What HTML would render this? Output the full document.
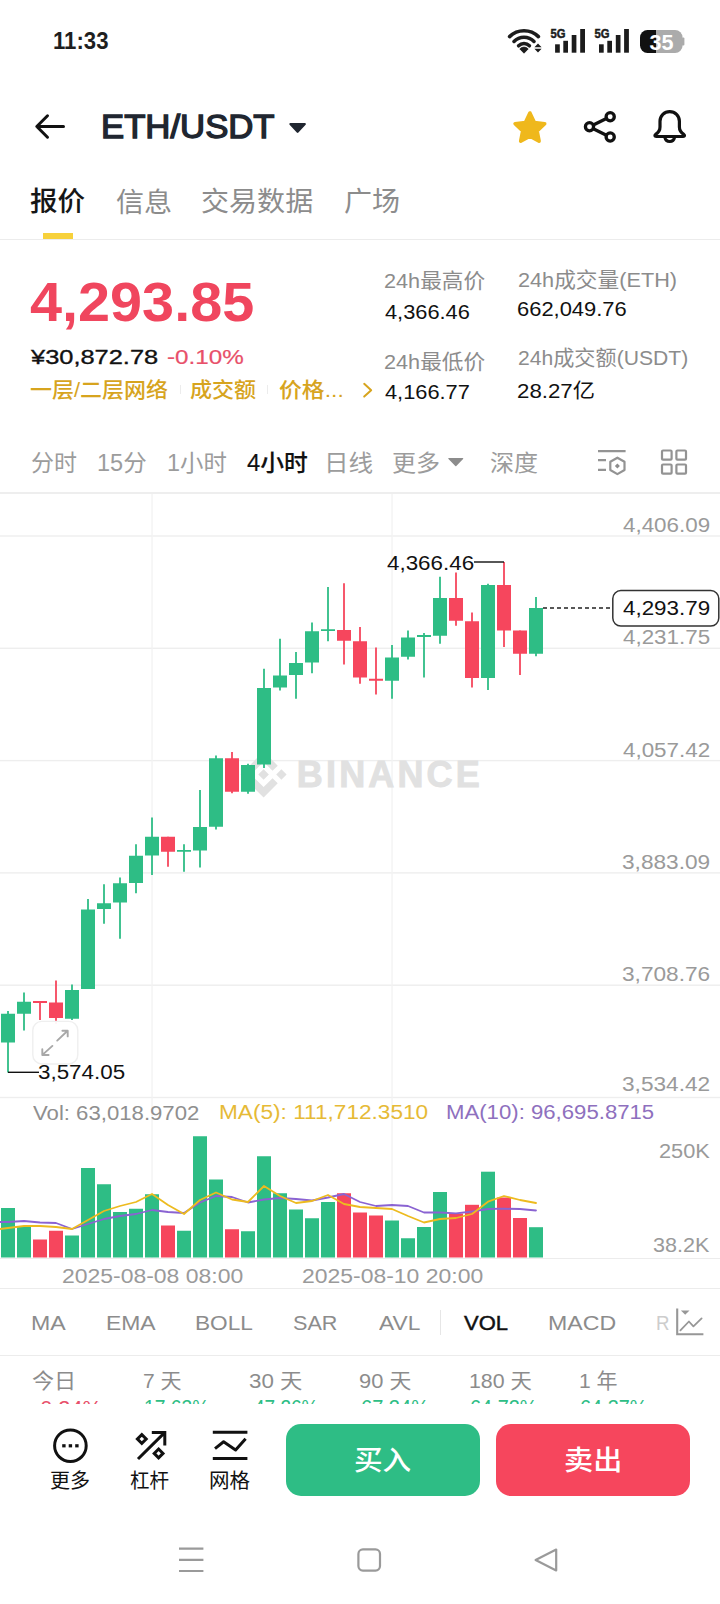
<!DOCTYPE html>
<html lang="zh-CN">
<head>
<meta charset="utf-8">
<meta name="viewport" content="width=720">
<title>ETH/USDT</title>
<style>
html,body{margin:0;padding:0;background:#fff;}
body{width:720px;height:1604px;position:relative;overflow:hidden;font-family:"Liberation Sans","Noto Sans CJK SC",sans-serif;}
.t{position:absolute;white-space:nowrap;transform-origin:0 50%;z-index:3;}
.abs{position:absolute;}
.chart{position:absolute;left:0;top:490px;}
.hr{position:absolute;left:0;width:720px;height:1px;background:#ececec;}
</style>
</head>
<body>
<svg class="chart" width="720" height="810" viewBox="0 490 720 810" shape-rendering="auto">
<rect x="0" y="535.30" width="720" height="1.4" fill="#eeeeee"/>
<rect x="0" y="647.60" width="720" height="1.4" fill="#eeeeee"/>
<rect x="0" y="759.90" width="720" height="1.4" fill="#eeeeee"/>
<rect x="0" y="872.20" width="720" height="1.4" fill="#eeeeee"/>
<rect x="0" y="984.50" width="720" height="1.4" fill="#eeeeee"/>
<rect x="0" y="1096.80" width="720" height="1.4" fill="#eeeeee"/>
<rect x="151.4" y="493" width="1.3" height="765" fill="#f2f2f2"/>
<rect x="391.4" y="493" width="1.3" height="765" fill="#f2f2f2"/>
<g transform="translate(240.6 751.5) scale(0.3633)" fill="#e1e1e1">
<path d="M38.73 53.2l24.59-24.58 24.6 24.6 14.3-14.31L63.32 0l-38.9 38.9z"/>
<path d="M0 63.31l14.3-14.31 14.31 14.31-14.31 14.3z"/>
<path d="M38.73 73.41l24.59 24.59 24.6-24.6 14.31 14.29-38.9 38.91-38.91-38.88z"/>
<path d="M98 63.31l14.3-14.31 14.31 14.3-14.31 14.32z"/>
<path d="M77.83 63.3L63.32 48.78 52.59 59.51l-1.24 1.23-2.54 2.54 14.51 14.5 14.51-14.47z"/>
</g>
<text x="296.8" y="787.4" font-family="Liberation Sans, sans-serif" font-weight="700" font-size="36" fill="#e1e1e1" textLength="183" lengthAdjust="spacing" stroke="#e1e1e1" stroke-width="0.9">BINANCE</text>

<rect x="7.1" y="1011" width="1.8" height="61.50" fill="#2EBD85"/>
<rect x="1" y="1013.75" width="14" height="28.75" fill="#2EBD85"/>
<rect x="23.1" y="992.5" width="1.8" height="38.00" fill="#2EBD85"/>
<rect x="17" y="1001.75" width="14" height="12.00" fill="#2EBD85"/>
<rect x="39.1" y="1001" width="1.8" height="19.00" fill="#F6465D"/>
<rect x="33" y="1001" width="14" height="2.00" fill="#F6465D"/>
<rect x="55.1" y="980.5" width="1.8" height="43.50" fill="#F6465D"/>
<rect x="49" y="1002.5" width="14" height="15.50" fill="#F6465D"/>
<rect x="71.1" y="984.5" width="1.8" height="35.50" fill="#2EBD85"/>
<rect x="65" y="990" width="14" height="28.75" fill="#2EBD85"/>
<rect x="87.1" y="899" width="1.8" height="90.00" fill="#2EBD85"/>
<rect x="81" y="909.5" width="14" height="79.50" fill="#2EBD85"/>
<rect x="103.1" y="884.25" width="1.8" height="39.50" fill="#2EBD85"/>
<rect x="97" y="903.25" width="14" height="5.75" fill="#2EBD85"/>
<rect x="119.1" y="877.5" width="1.8" height="61.25" fill="#2EBD85"/>
<rect x="113" y="883.25" width="14" height="19.25" fill="#2EBD85"/>
<rect x="135.1" y="844.25" width="1.8" height="49.00" fill="#2EBD85"/>
<rect x="129" y="855.75" width="14" height="27.25" fill="#2EBD85"/>
<rect x="151.1" y="817.5" width="1.8" height="57.50" fill="#2EBD85"/>
<rect x="145" y="836.75" width="14" height="18.75" fill="#2EBD85"/>
<rect x="167.1" y="836.75" width="1.8" height="30.00" fill="#F6465D"/>
<rect x="161" y="836.75" width="14" height="15.00" fill="#F6465D"/>
<rect x="183.1" y="844.25" width="1.8" height="27.50" fill="#2EBD85"/>
<rect x="177" y="850" width="14" height="1.75" fill="#2EBD85"/>
<rect x="199.1" y="790" width="1.8" height="77.50" fill="#2EBD85"/>
<rect x="193" y="827" width="14" height="23.50" fill="#2EBD85"/>
<rect x="215.1" y="755.5" width="1.8" height="74.00" fill="#2EBD85"/>
<rect x="209" y="758.25" width="14" height="68.50" fill="#2EBD85"/>
<rect x="231.1" y="752" width="1.8" height="41.25" fill="#F6465D"/>
<rect x="225" y="758.25" width="14" height="33.50" fill="#F6465D"/>
<rect x="247.1" y="763.75" width="1.8" height="30.00" fill="#2EBD85"/>
<rect x="241" y="765" width="14" height="26.75" fill="#2EBD85"/>
<rect x="263.1" y="668.75" width="1.8" height="99.25" fill="#2EBD85"/>
<rect x="257" y="688" width="14" height="76.50" fill="#2EBD85"/>
<rect x="279.1" y="638.75" width="1.8" height="51.75" fill="#2EBD85"/>
<rect x="273" y="675.5" width="14" height="12.00" fill="#2EBD85"/>
<rect x="295.1" y="652" width="1.8" height="46.75" fill="#2EBD85"/>
<rect x="289" y="663" width="14" height="12.00" fill="#2EBD85"/>
<rect x="311.1" y="622.5" width="1.8" height="50.75" fill="#2EBD85"/>
<rect x="305" y="631.25" width="14" height="31.25" fill="#2EBD85"/>
<rect x="327.1" y="587" width="1.8" height="54.25" fill="#2EBD85"/>
<rect x="321" y="629.25" width="14" height="1.75" fill="#2EBD85"/>
<rect x="343.1" y="583.25" width="1.8" height="81.25" fill="#F6465D"/>
<rect x="337" y="630" width="14" height="10.75" fill="#F6465D"/>
<rect x="359.1" y="627" width="1.8" height="56.75" fill="#F6465D"/>
<rect x="353" y="641.25" width="14" height="36.25" fill="#F6465D"/>
<rect x="375.1" y="647.5" width="1.8" height="47.00" fill="#F6465D"/>
<rect x="369" y="678.75" width="14" height="2.00" fill="#F6465D"/>
<rect x="391.1" y="645" width="1.8" height="53.75" fill="#2EBD85"/>
<rect x="385" y="657.5" width="14" height="23.25" fill="#2EBD85"/>
<rect x="407.1" y="630.5" width="1.8" height="29.00" fill="#2EBD85"/>
<rect x="401" y="637.5" width="14" height="19.25" fill="#2EBD85"/>
<rect x="423.1" y="633" width="1.8" height="44.50" fill="#2EBD85"/>
<rect x="417" y="635" width="14" height="2.00" fill="#2EBD85"/>
<rect x="439.1" y="576.75" width="1.8" height="67.00" fill="#2EBD85"/>
<rect x="433" y="598" width="14" height="37.75" fill="#2EBD85"/>
<rect x="455.1" y="572.5" width="1.8" height="53.25" fill="#F6465D"/>
<rect x="449" y="598" width="14" height="22.75" fill="#F6465D"/>
<rect x="471.1" y="612.5" width="1.8" height="75.00" fill="#F6465D"/>
<rect x="465" y="621.25" width="14" height="56.75" fill="#F6465D"/>
<rect x="487.1" y="583.75" width="1.8" height="106.25" fill="#2EBD85"/>
<rect x="481" y="585" width="14" height="93.00" fill="#2EBD85"/>
<rect x="503.1" y="562" width="1.8" height="85.00" fill="#F6465D"/>
<rect x="497" y="585" width="14" height="45.50" fill="#F6465D"/>
<rect x="519.1" y="630.5" width="1.8" height="44.50" fill="#F6465D"/>
<rect x="513" y="630.5" width="14" height="23.25" fill="#F6465D"/>
<rect x="535.1" y="597" width="1.8" height="59.25" fill="#2EBD85"/>
<rect x="529" y="608" width="14" height="45.75" fill="#2EBD85"/>
<rect x="1" y="1208" width="14" height="49.50" fill="#2EBD85"/>
<rect x="17" y="1226.25" width="14" height="31.25" fill="#2EBD85"/>
<rect x="33" y="1239.5" width="14" height="18.00" fill="#F6465D"/>
<rect x="49" y="1230.75" width="14" height="26.75" fill="#F6465D"/>
<rect x="65" y="1235.5" width="14" height="22.00" fill="#2EBD85"/>
<rect x="81" y="1168" width="14" height="89.50" fill="#2EBD85"/>
<rect x="97" y="1184.25" width="14" height="73.25" fill="#2EBD85"/>
<rect x="113" y="1212" width="14" height="45.50" fill="#2EBD85"/>
<rect x="129" y="1208.75" width="14" height="48.75" fill="#2EBD85"/>
<rect x="145" y="1194.25" width="14" height="63.25" fill="#2EBD85"/>
<rect x="161" y="1225.5" width="14" height="32.00" fill="#F6465D"/>
<rect x="177" y="1230.75" width="14" height="26.75" fill="#2EBD85"/>
<rect x="193" y="1136.25" width="14" height="121.25" fill="#2EBD85"/>
<rect x="209" y="1179.5" width="14" height="78.00" fill="#2EBD85"/>
<rect x="225" y="1229.25" width="14" height="28.25" fill="#F6465D"/>
<rect x="241" y="1231.25" width="14" height="26.25" fill="#2EBD85"/>
<rect x="257" y="1156.25" width="14" height="101.25" fill="#2EBD85"/>
<rect x="273" y="1193.25" width="14" height="64.25" fill="#2EBD85"/>
<rect x="289" y="1209.5" width="14" height="48.00" fill="#2EBD85"/>
<rect x="305" y="1218.25" width="14" height="39.25" fill="#2EBD85"/>
<rect x="321" y="1202" width="14" height="55.50" fill="#2EBD85"/>
<rect x="337" y="1193.25" width="14" height="64.25" fill="#F6465D"/>
<rect x="353" y="1212.5" width="14" height="45.00" fill="#F6465D"/>
<rect x="369" y="1215.5" width="14" height="42.00" fill="#F6465D"/>
<rect x="385" y="1220.5" width="14" height="37.00" fill="#2EBD85"/>
<rect x="401" y="1238.25" width="14" height="19.25" fill="#2EBD85"/>
<rect x="417" y="1227" width="14" height="30.50" fill="#2EBD85"/>
<rect x="433" y="1192" width="14" height="65.50" fill="#2EBD85"/>
<rect x="449" y="1213.5" width="14" height="44.00" fill="#F6465D"/>
<rect x="465" y="1204.8" width="14" height="52.70" fill="#F6465D"/>
<rect x="481" y="1171.7" width="14" height="85.80" fill="#2EBD85"/>
<rect x="497" y="1197.5" width="14" height="60.00" fill="#F6465D"/>
<rect x="513" y="1218" width="14" height="39.50" fill="#F6465D"/>
<rect x="529" y="1227.2" width="14" height="30.30" fill="#2EBD85"/>
<polyline points="0,1222 8,1222 24,1221 40,1222.5 56,1223 72,1229 88,1224 104,1219 120,1216 136,1214 152,1210 168,1212 184,1213 200,1202.5 216,1196 232,1197 248,1202.5 264,1199.5 280,1198 296,1199 312,1200.5 328,1197.5 344,1194 360,1202 376,1206 392,1205 408,1206 424,1212.5 440,1212.5 456,1213.3 472,1211.5 488,1209 504,1208.7 520,1209 536,1210.5" fill="none" stroke="#8A63D2" stroke-width="1.8" stroke-linejoin="round" stroke-linecap="round"/>
<polyline points="0,1229 8,1228 24,1226 40,1226 56,1227 72,1229 88,1220 104,1211 120,1206 136,1202 152,1194 168,1205 184,1214 200,1200 216,1192.5 232,1199.5 248,1202 264,1186 280,1196 296,1203 312,1201 328,1195 344,1204 360,1207 376,1208 392,1209 408,1216 424,1222.5 440,1219 456,1218 472,1214 488,1201.7 504,1196 520,1200 536,1203" fill="none" stroke="#EDBB1F" stroke-width="1.8" stroke-linejoin="round" stroke-linecap="round"/>
<rect x="474" y="561.3" width="30" height="1.4" fill="#111"/>
<rect x="8" y="1071.6" width="31" height="1.4" fill="#111"/>
<line x1="543" y1="608" x2="612" y2="608" stroke="#222" stroke-width="1.4" stroke-dasharray="4 3"/>
<rect x="612.8" y="590.6" width="106" height="35.4" rx="8" fill="#fff" stroke="#333" stroke-width="1.5"/>

</svg>
<!-- separators -->
<div class="hr" style="top:239px"></div>
<div class="hr" style="top:492.2px;height:1.4px;background:#eee"></div>
<div class="hr" style="top:1287.5px"></div>
<div class="hr" style="top:1257.5px;height:1.4px"></div>
<div class="hr" style="top:1355px"></div>
<div class="abs" style="left:440px;top:1310px;width:1px;height:25px;background:#e6e6e6"></div>
<!-- tab underline -->
<div class="abs" style="left:42.8px;top:233.2px;width:30px;height:6px;background:#F7D13B"></div>

<div class="abs" style="left:179.8px;top:385px;width:1.4px;height:9px;background:#ececec"></div>
<div class="abs" style="left:267px;top:385px;width:1.4px;height:9px;background:#ececec"></div>
<svg class="abs" style="left:355px;top:378px" width="24" height="24" viewBox="355 378 24 24"><path d="M364.2 383.8 L371.2 390.2 L364.2 396.6" fill="none" stroke="#D7A41E" stroke-width="2" stroke-linecap="round" stroke-linejoin="round"/></svg>
<!-- status bar icons -->
<svg class="abs" style="left:500px;top:20px" width="200" height="40" viewBox="500 20 200 40">
  <g fill="none" stroke="#1c1c1c" stroke-width="3.6" stroke-linecap="round">
    <path d="M509.6 36.6 A20.5 20.5 0 0 1 538.4 36.6"/>
    <path d="M514 41.4 A14 14 0 0 1 534 41.4"/>
    <path d="M518.6 45.8 A7.6 7.6 0 0 1 529.4 45.8"/>
  </g>
  <path d="M524 53.2 L519.8 48.9 A5.8 5.8 0 0 1 528.2 48.9 Z" fill="#1c1c1c" stroke="#1c1c1c" stroke-width="0.8" stroke-linejoin="round"/>
  <path d="M538 43.4 L541.6 47.2 L534.4 47.2 Z M538 52.4 L541.6 48.8 L534.4 48.8 Z" fill="#1c1c1c"/>
  <g fill="#1c1c1c">
    <rect x="555.1" y="44.3" width="4.7" height="8.4"/>
    <rect x="563.3" y="40.8" width="4.7" height="11.9"/>
    <rect x="571.7" y="35" width="4.7" height="17.7"/>
    <rect x="580.2" y="29" width="4.8" height="23.7"/>
    <rect x="599" y="44.3" width="4.7" height="8.4"/>
    <rect x="607.3" y="40.8" width="4.7" height="11.9"/>
    <rect x="615.8" y="35" width="4.7" height="17.7"/>
    <rect x="624.1" y="29" width="4.8" height="23.7"/>
  </g>
  <text x="550.4" y="38.2" font-family="Liberation Sans, sans-serif" font-weight="700" font-size="13.2" fill="#1c1c1c" stroke="#1c1c1c" stroke-width="0.5" textLength="15" lengthAdjust="spacingAndGlyphs">5G</text>
  <text x="594.6" y="38.2" font-family="Liberation Sans, sans-serif" font-weight="700" font-size="13.2" fill="#1c1c1c" stroke="#1c1c1c" stroke-width="0.5" textLength="15" lengthAdjust="spacingAndGlyphs">5G</text>
  <defs><clipPath id="batc"><rect x="640" y="30" width="42.6" height="23" rx="7.5"/></clipPath></defs>
  <g clip-path="url(#batc)">
    <rect x="640" y="30" width="16" height="23" fill="#111"/>
    <rect x="656" y="30" width="27" height="23" fill="#ababab"/>
  </g>
  <rect x="682" y="37.5" width="2.4" height="8" rx="1" fill="#ababab"/>
  <text x="649.4" y="49.8" font-family="Liberation Sans, sans-serif" font-weight="700" font-size="22" fill="#fff" textLength="24" lengthAdjust="spacingAndGlyphs">35</text>
</svg>

<!-- header icons -->
<svg class="abs" style="left:30px;top:105px" width="290" height="45" viewBox="30 105 290 45">
  <path d="M63.5 126.5 H37 M47.5 115.8 L36.8 126.5 L47.5 137.2" fill="none" stroke="#111" stroke-width="3" stroke-linecap="round" stroke-linejoin="round"/>
  <path d="M290.4 124 L304.8 124 L297.6 131.8 Z" fill="#202630" stroke="#202630" stroke-width="2.2" stroke-linejoin="round"/>
</svg>
<svg class="abs" style="left:500px;top:100px" width="200" height="55" viewBox="500 100 200 55">
  <path d="M529.9 113.0 L534.4 122.5 L544.7 123.8 L537.1 130.9 L539.1 141.2 L529.9 136.2 L520.7 141.2 L522.7 130.9 L515.1 123.8 L525.4 122.5 Z" fill="#EFB81C" stroke="#EFB81C" stroke-width="3.6" stroke-linejoin="round"/>
  <g fill="none" stroke="#111" stroke-width="3.3">
    <circle cx="589.5" cy="126.8" r="4.1"/>
    <circle cx="610.2" cy="116.8" r="4.1"/>
    <circle cx="610.2" cy="137" r="4.1"/>
    <path d="M593.3 125 L606.4 118.6 M593.3 128.7 L606.4 135.2"/>
  </g>
  <path d="M660 121.3 A9.7 9.7 0 0 1 679.4 121.3 L679.4 127 C679.4 131 681.6 133 683.8 134.4 C685 135.4 684.6 136.5 683.2 136.5 L656.2 136.5 C654.8 136.5 654.4 135.4 655.6 134.4 C657.8 133 660 131 660 127 Z" fill="none" stroke="#111" stroke-width="3.2" stroke-linejoin="round"/>
  <path d="M664.8 137.4 A5 5 0 0 0 674.6 137.4" fill="none" stroke="#111" stroke-width="3"/>
</svg>

<!-- interval row icons -->
<svg class="abs" style="left:440px;top:440px" width="260" height="45" viewBox="440 440 260 45">
  <path d="M449 458.6 L462.6 458.6 L455.8 465.6 Z" fill="#8c8c8c" stroke="#8c8c8c" stroke-width="1.4" stroke-linejoin="round"/>
  <g fill="none" stroke="#939393" stroke-width="2.2" stroke-linejoin="round">
    <path d="M598 451.2 H625.6 M598 460.2 H606 M598 469.8 H606"/>
    <path d="M617.4 457.7 L624.5 461.8 L624.5 470 L617.4 474.1 L610.3 470 L610.3 461.8 Z"/>
    <rect x="662" y="450.5" width="9.6" height="9.2" rx="1"/>
    <rect x="676.4" y="450.5" width="9.6" height="9.2" rx="1"/>
    <rect x="662" y="464.5" width="9.6" height="9.2" rx="1"/>
    <rect x="676.4" y="464.5" width="9.6" height="9.2" rx="1"/>
  </g>
  <path d="M617.4 463.4 L619.9 465.9 L617.4 468.4 L614.9 465.9 Z" fill="#8c8c8c"/>
</svg>

<!-- trend icon in indicator row -->
<div class="abs" style="left:640px;top:1300px;width:80px;height:50px;background:linear-gradient(90deg,rgba(255,255,255,0) 0,rgba(255,255,255,.0) 15%,#fff 45%)"></div>
<svg class="abs" style="left:670px;top:1300px" width="45" height="45" viewBox="670 1300 45 45">
  <path d="M677.2 1308.4 V1334.3 H703.4" fill="none" stroke="#979797" stroke-width="2.1"/>
  <path d="M680.4 1330.4 L688.9 1321.5 L693.4 1326.3 L701.6 1318.4" fill="none" stroke="#979797" stroke-width="1.8" stroke-linejoin="round" stroke-linecap="round"/>
  <path d="M680.9 1310.6 L689.5 1310.6 L685.2 1314.8 Z" fill="#979797"/>
</svg>

<!-- bottom bar -->
<div class="abs" style="left:0;top:1403.5px;width:720px;height:201px;background:#fff;z-index:1"></div>
<div class="abs" style="left:286px;top:1424px;width:194px;height:71.5px;border-radius:15px;background:#2EBD85;z-index:2"></div>
<div class="abs" style="left:496px;top:1424px;width:194px;height:71.5px;border-radius:15px;background:#F6465D;z-index:2"></div>
<svg class="abs" style="left:40px;top:1420px;z-index:2" width="230" height="50" viewBox="40 1420 230 50">
  <circle cx="70.4" cy="1445.7" r="15.8" fill="none" stroke="#111" stroke-width="3"/>
  <g fill="#111"><rect x="62.2" y="1444.2" width="3.4" height="3.2"/><rect x="68.7" y="1444.2" width="3.4" height="3.2"/><rect x="75.2" y="1444.2" width="3.4" height="3.2"/></g>
  <g fill="none" stroke="#111" stroke-width="3" stroke-linejoin="miter">
    <path d="M138 1459 L164.6 1432.6 M151.8 1432.4 H164.8 V1445.4"/>
    <path d="M141.8 1434.6 L146.2 1439 L141.8 1443.4 L137.4 1439 Z"/>
    <path d="M158.6 1449 L163 1453.4 L158.6 1457.8 L154.2 1453.4 Z"/>
    <path d="M212.8 1432.2 H247.4 M212.8 1458.4 H247.4"/>
    <path d="M215 1448.6 L223.6 1441.8 L235.6 1450 L245.6 1438.8" stroke-linejoin="round"/>
  </g>
</svg>
<!-- android nav -->
<svg class="abs" style="left:170px;top:1540px;z-index:2" width="400" height="40" viewBox="170 1540 400 40">
  <g fill="none" stroke="#9a9a9a" stroke-width="2.2" stroke-linejoin="round">
    <path d="M179 1548.6 H203.4 M179 1559.8 H203.4 M179 1571 H203.4"/>
    <rect x="358.4" y="1549.4" width="21.6" height="21.2" rx="4.5"/>
    <path d="M556.2 1549.6 V1570.4 L535.6 1560 Z"/>
  </g>
</svg>

<svg class="abs" style="left:28px;top:1016px;z-index:4" width="56" height="54" viewBox="28 1016 56 54">
<rect x="32.8" y="1021.4" width="45" height="42.6" rx="9" fill="#fff" fill-opacity=".95" stroke="#efefef" stroke-width="1.4"/>
<path d="M57.2 1040.6 L67.6 1030.8 M62.4 1030.7 H67.7 V1036.4 M52.4 1045.9 L42.4 1054.9 M42.3 1049.2 V1055 H48.6" fill="none" stroke="#a8a8a8" stroke-width="1.9" stroke-linecap="round" stroke-linejoin="round"/>
</svg>

<div class="t" id="clock" style="left:52.73px;top:25.10px;font-size:23px;line-height:32.2px;color:#1f1f1f;font-weight:700;transform:scaleX(0.9643)">11:33</div>
<div class="t" id="pair" style="left:101.32px;top:105.15px;font-size:32.5px;line-height:45.5px;color:#202630;font-weight:400;-webkit-text-stroke:1.35px #202630;transform:scaleX(1.0680)">ETH/USDT</div>
<div class="t" id="tab1" style="left:30.21px;top:184.10px;font-size:27px;line-height:37.8px;color:#161616;font-weight:500;transform:scaleX(1.0196)">报价</div>
<div class="t" id="tab2" style="left:116.44px;top:185.10px;font-size:27px;line-height:37.8px;color:#8c8c8c;font-weight:400;transform:scaleX(1.0392)">信息</div>
<div class="t" id="tab3" style="left:201.45px;top:184.10px;font-size:27px;line-height:37.8px;color:#8c8c8c;font-weight:400;transform:scaleX(1.0386)">交易数据</div>
<div class="t" id="tab4" style="left:344.44px;top:183.60px;font-size:27px;line-height:37.8px;color:#8c8c8c;font-weight:400;transform:scaleX(1.0397)">广场</div>
<div class="t" id="price" style="left:29.98px;top:262.80px;font-size:56px;line-height:78.4px;color:#F0465E;font-weight:700;transform:scaleX(1.0286)">4,293.85</div>
<div class="t" id="cny" style="left:30.60px;top:341.80px;font-size:21px;line-height:29.4px;color:#111;font-weight:400;-webkit-text-stroke:0.35px #111;transform:scaleX(1.2096)">¥30,872.78</div>
<div class="t" id="chg" style="left:167.43px;top:341.90px;font-size:21px;line-height:29.4px;color:#E8506A;font-weight:400;-webkit-text-stroke:0.2px #E8506A;transform:scaleX(1.1536)">-0.10%</div>
<div class="t" id="tag1" style="left:30.18px;top:375.00px;font-size:21px;line-height:29.4px;color:#D7A41E;font-weight:500;transform:scaleX(1.0461)">一层/二层网络</div>
<div class="t" id="tag2" style="left:190.46px;top:375.00px;font-size:21px;line-height:29.4px;color:#D7A41E;font-weight:500;transform:scaleX(1.0487)">成交额</div>
<div class="t" id="tag3" style="left:279.34px;top:375.00px;font-size:21px;line-height:29.4px;color:#D7A41E;font-weight:500;transform:scaleX(1.0880)">价格...</div>
<div class="t" id="hl" style="left:383.97px;top:265.90px;font-size:21px;line-height:29.4px;color:#8c8c8c;font-weight:400;transform:scaleX(1.0313)">24h最高价</div>
<div class="t" id="hv" style="left:385.00px;top:298.15px;font-size:20.5px;line-height:28.7px;color:#111;font-weight:400;transform:scaleX(1.0634)">4,366.46</div>
<div class="t" id="ll" style="left:383.97px;top:347.00px;font-size:21px;line-height:29.4px;color:#8c8c8c;font-weight:400;transform:scaleX(1.0313)">24h最低价</div>
<div class="t" id="lv" style="left:385.00px;top:377.65px;font-size:20.5px;line-height:28.7px;color:#111;font-weight:400;transform:scaleX(1.0634)">4,166.77</div>
<div class="t" id="vl" style="left:517.97px;top:264.80px;font-size:21px;line-height:29.4px;color:#8c8c8c;font-weight:400;transform:scaleX(1.0327)">24h成交量(ETH)</div>
<div class="t" id="vv" style="left:517.35px;top:295.45px;font-size:20.5px;line-height:28.7px;color:#111;font-weight:400;transform:scaleX(1.0694)">662,049.76</div>
<div class="t" id="al" style="left:517.99px;top:342.90px;font-size:21px;line-height:29.4px;color:#8c8c8c;font-weight:400;transform:scaleX(1.0060)">24h成交额(USDT)</div>
<div class="t" id="av" style="left:517.33px;top:376.85px;font-size:20.5px;line-height:28.7px;color:#111;font-weight:400;transform:scaleX(1.0860)">28.27亿</div>
<div class="t" id="iv1" style="left:30.69px;top:447.40px;font-size:23px;line-height:32.2px;color:#9c9c9c;font-weight:400;transform:scaleX(1.0004)">分时</div>
<div class="t" id="iv2" style="left:97.18px;top:447.40px;font-size:23px;line-height:32.2px;color:#9c9c9c;font-weight:400;transform:scaleX(1.0223)">15分</div>
<div class="t" id="iv3" style="left:167.18px;top:447.40px;font-size:23px;line-height:32.2px;color:#9c9c9c;font-weight:400;transform:scaleX(1.0183)">1小时</div>
<div class="t" id="iv4" style="left:247.00px;top:447.40px;font-size:23px;line-height:32.2px;color:#111;font-weight:500;-webkit-text-stroke:0.15px #111;transform:scaleX(1.0348)">4小时</div>
<div class="t" id="iv5" style="left:324.12px;top:447.40px;font-size:23px;line-height:32.2px;color:#9c9c9c;font-weight:400;transform:scaleX(1.0687)">日线</div>
<div class="t" id="iv6" style="left:392.22px;top:447.40px;font-size:23px;line-height:32.2px;color:#9c9c9c;font-weight:400;transform:scaleX(1.0465)">更多</div>
<div class="t" id="iv7" style="left:490.13px;top:447.40px;font-size:23px;line-height:32.2px;color:#9c9c9c;font-weight:400;transform:scaleX(1.0458)">深度</div>
<div class="t" id="y1" style="left:623.32px;top:510.60px;font-size:20px;line-height:28.0px;color:#9a9a9a;font-weight:400;transform:scaleX(1.1187)">4,406.09</div>
<div class="t" id="y2" style="left:623.32px;top:623.00px;font-size:20px;line-height:28.0px;color:#9a9a9a;font-weight:400;transform:scaleX(1.1187)">4,231.75</div>
<div class="t" id="y3" style="left:623.32px;top:735.90px;font-size:20px;line-height:28.0px;color:#9a9a9a;font-weight:400;transform:scaleX(1.1187)">4,057.42</div>
<div class="t" id="y4" style="left:622.30px;top:848.00px;font-size:20px;line-height:28.0px;color:#9a9a9a;font-weight:400;transform:scaleX(1.1319)">3,883.09</div>
<div class="t" id="y5" style="left:622.30px;top:960.10px;font-size:20px;line-height:28.0px;color:#9a9a9a;font-weight:400;transform:scaleX(1.1319)">3,708.76</div>
<div class="t" id="y6" style="left:622.30px;top:1070.30px;font-size:20px;line-height:28.0px;color:#9a9a9a;font-weight:400;transform:scaleX(1.1319)">3,534.42</div>
<div class="t" id="hi" style="left:387.32px;top:548.70px;font-size:20px;line-height:28.0px;color:#111;font-weight:400;transform:scaleX(1.1186)">4,366.46</div>
<div class="t" id="lo" style="left:37.75px;top:1058.30px;font-size:20px;line-height:28.0px;color:#111;font-weight:400;transform:scaleX(1.1186)">3,574.05</div>
<div class="t" id="last" style="left:623.32px;top:594.20px;font-size:20px;line-height:28.0px;color:#111;font-weight:400;transform:scaleX(1.1187)">4,293.79</div>
<div class="t" id="volt" style="left:32.78px;top:1098.60px;font-size:20px;line-height:28.0px;color:#8f8f8f;font-weight:400;transform:scaleX(1.1078)">Vol: 63,018.9702</div>
<div class="t" id="ma5t" style="left:218.51px;top:1098.30px;font-size:20px;line-height:28.0px;color:#E6BA36;font-weight:400;transform:scaleX(1.1312)">MA(5): 111,712.3510</div>
<div class="t" id="ma10t" style="left:446.44px;top:1098.30px;font-size:20px;line-height:28.0px;color:#8E70BE;font-weight:400;transform:scaleX(1.1079)">MA(10): 96,695.8715</div>
<div class="t" id="v1" style="left:659.21px;top:1137.00px;font-size:20px;line-height:28.0px;color:#9a9a9a;font-weight:400;transform:scaleX(1.0876)">250K</div>
<div class="t" id="v2" style="left:653.14px;top:1230.60px;font-size:20px;line-height:28.0px;color:#9a9a9a;font-weight:400;transform:scaleX(1.0784)">38.2K</div>
<div class="t" id="d1" style="left:61.51px;top:1262.20px;font-size:20px;line-height:28.0px;color:#9a9a9a;font-weight:400;transform:scaleX(1.1474)">2025-08-08 08:00</div>
<div class="t" id="d2" style="left:301.51px;top:1262.20px;font-size:20px;line-height:28.0px;color:#9a9a9a;font-weight:400;transform:scaleX(1.1474)">2025-08-10 20:00</div>
<div class="t" id="i1" style="left:31.02px;top:1308.40px;font-size:21px;line-height:29.4px;color:#8c8c8c;font-weight:400;transform:scaleX(1.1014)">MA</div>
<div class="t" id="i2" style="left:106.02px;top:1308.40px;font-size:21px;line-height:29.4px;color:#8c8c8c;font-weight:400;transform:scaleX(1.0912)">EMA</div>
<div class="t" id="i3" style="left:194.77px;top:1308.40px;font-size:21px;line-height:29.4px;color:#8c8c8c;font-weight:400;transform:scaleX(1.0786)">BOLL</div>
<div class="t" id="i4" style="left:292.54px;top:1308.40px;font-size:21px;line-height:29.4px;color:#8c8c8c;font-weight:400;transform:scaleX(1.0269)">SAR</div>
<div class="t" id="i5" style="left:379.00px;top:1308.40px;font-size:21px;line-height:29.4px;color:#8c8c8c;font-weight:400;transform:scaleX(1.0821)">AVL</div>
<div class="t" id="i6" style="left:463.52px;top:1307.80px;font-size:21px;line-height:29.4px;color:#111;font-weight:400;-webkit-text-stroke:0.45px #111;transform:scaleX(1.0476)">VOL</div>
<div class="t" id="i7" style="left:547.80px;top:1308.40px;font-size:21px;line-height:29.4px;color:#8c8c8c;font-weight:400;transform:scaleX(1.1017)">MACD</div>
<div class="t" id="i8" style="left:656.44px;top:1308.40px;font-size:21px;line-height:29.4px;color:#cdcdcd;font-weight:400;transform:scaleX(0.8884)">R</div>
<div class="t" id="p1" style="left:32.47px;top:1366.30px;font-size:21px;line-height:29.4px;color:#8c8c8c;font-weight:400;transform:scaleX(1.0526)">今日</div>
<div class="t" id="p2" style="left:142.54px;top:1366.30px;font-size:21px;line-height:29.4px;color:#8c8c8c;font-weight:400;transform:scaleX(1.0010)">7 天</div>
<div class="t" id="p3" style="left:248.94px;top:1366.30px;font-size:21px;line-height:29.4px;color:#8c8c8c;font-weight:400;transform:scaleX(1.0630)">30 天</div>
<div class="t" id="p4" style="left:358.96px;top:1366.30px;font-size:21px;line-height:29.4px;color:#8c8c8c;font-weight:400;transform:scaleX(1.0422)">90 天</div>
<div class="t" id="p5" style="left:468.98px;top:1366.30px;font-size:21px;line-height:29.4px;color:#8c8c8c;font-weight:400;transform:scaleX(1.0167)">180 天</div>
<div class="t" id="p6" style="left:579.00px;top:1366.30px;font-size:21px;line-height:29.4px;color:#8c8c8c;font-weight:400;transform:scaleX(1.0010)">1 年</div>
<div class="t" id="q1" style="z-index:0;left:32.50px;top:1393.60px;font-size:22px;line-height:30.8px;color:#E8506A;font-weight:400;transform:scaleX(0.9860)">-0.24%</div>
<div class="t" id="q2" style="z-index:0;left:144.23px;top:1393.20px;font-size:22px;line-height:30.8px;color:#2EBD85;font-weight:400;transform:scaleX(0.8752)">17.63%</div>
<div class="t" id="q3" style="z-index:0;left:254.01px;top:1393.20px;font-size:22px;line-height:30.8px;color:#2EBD85;font-weight:400;transform:scaleX(0.8649)">47.26%</div>
<div class="t" id="q4" style="z-index:0;left:361.09px;top:1393.20px;font-size:22px;line-height:30.8px;color:#2EBD85;font-weight:400;transform:scaleX(0.9109)">67.24%</div>
<div class="t" id="q5" style="z-index:0;left:470.10px;top:1393.20px;font-size:22px;line-height:30.8px;color:#2EBD85;font-weight:400;transform:scaleX(0.9041)">64.72%</div>
<div class="t" id="q6" style="z-index:0;left:580.10px;top:1393.20px;font-size:22px;line-height:30.8px;color:#2EBD85;font-weight:400;transform:scaleX(0.9041)">64.37%</div>
<div class="t" id="b1" style="left:50.29px;top:1467.00px;font-size:20px;line-height:28.0px;color:#111;font-weight:400;transform:scaleX(1.0009)">更多</div>
<div class="t" id="b2" style="left:130.13px;top:1467.00px;font-size:20px;line-height:28.0px;color:#111;font-weight:400;transform:scaleX(0.9745)">杠杆</div>
<div class="t" id="b3" style="left:209.23px;top:1467.00px;font-size:20px;line-height:28.0px;color:#111;font-weight:400;transform:scaleX(1.0277)">网格</div>
<div class="t" id="buy" style="left:353.71px;top:1442.60px;font-size:27px;line-height:37.8px;color:#fff;font-weight:500;transform:scaleX(1.0583)">买入</div>
<div class="t" id="sell" style="left:563.79px;top:1442.60px;font-size:27px;line-height:37.8px;color:#fff;font-weight:500;transform:scaleX(1.0795)">卖出</div>
</body>
</html>
